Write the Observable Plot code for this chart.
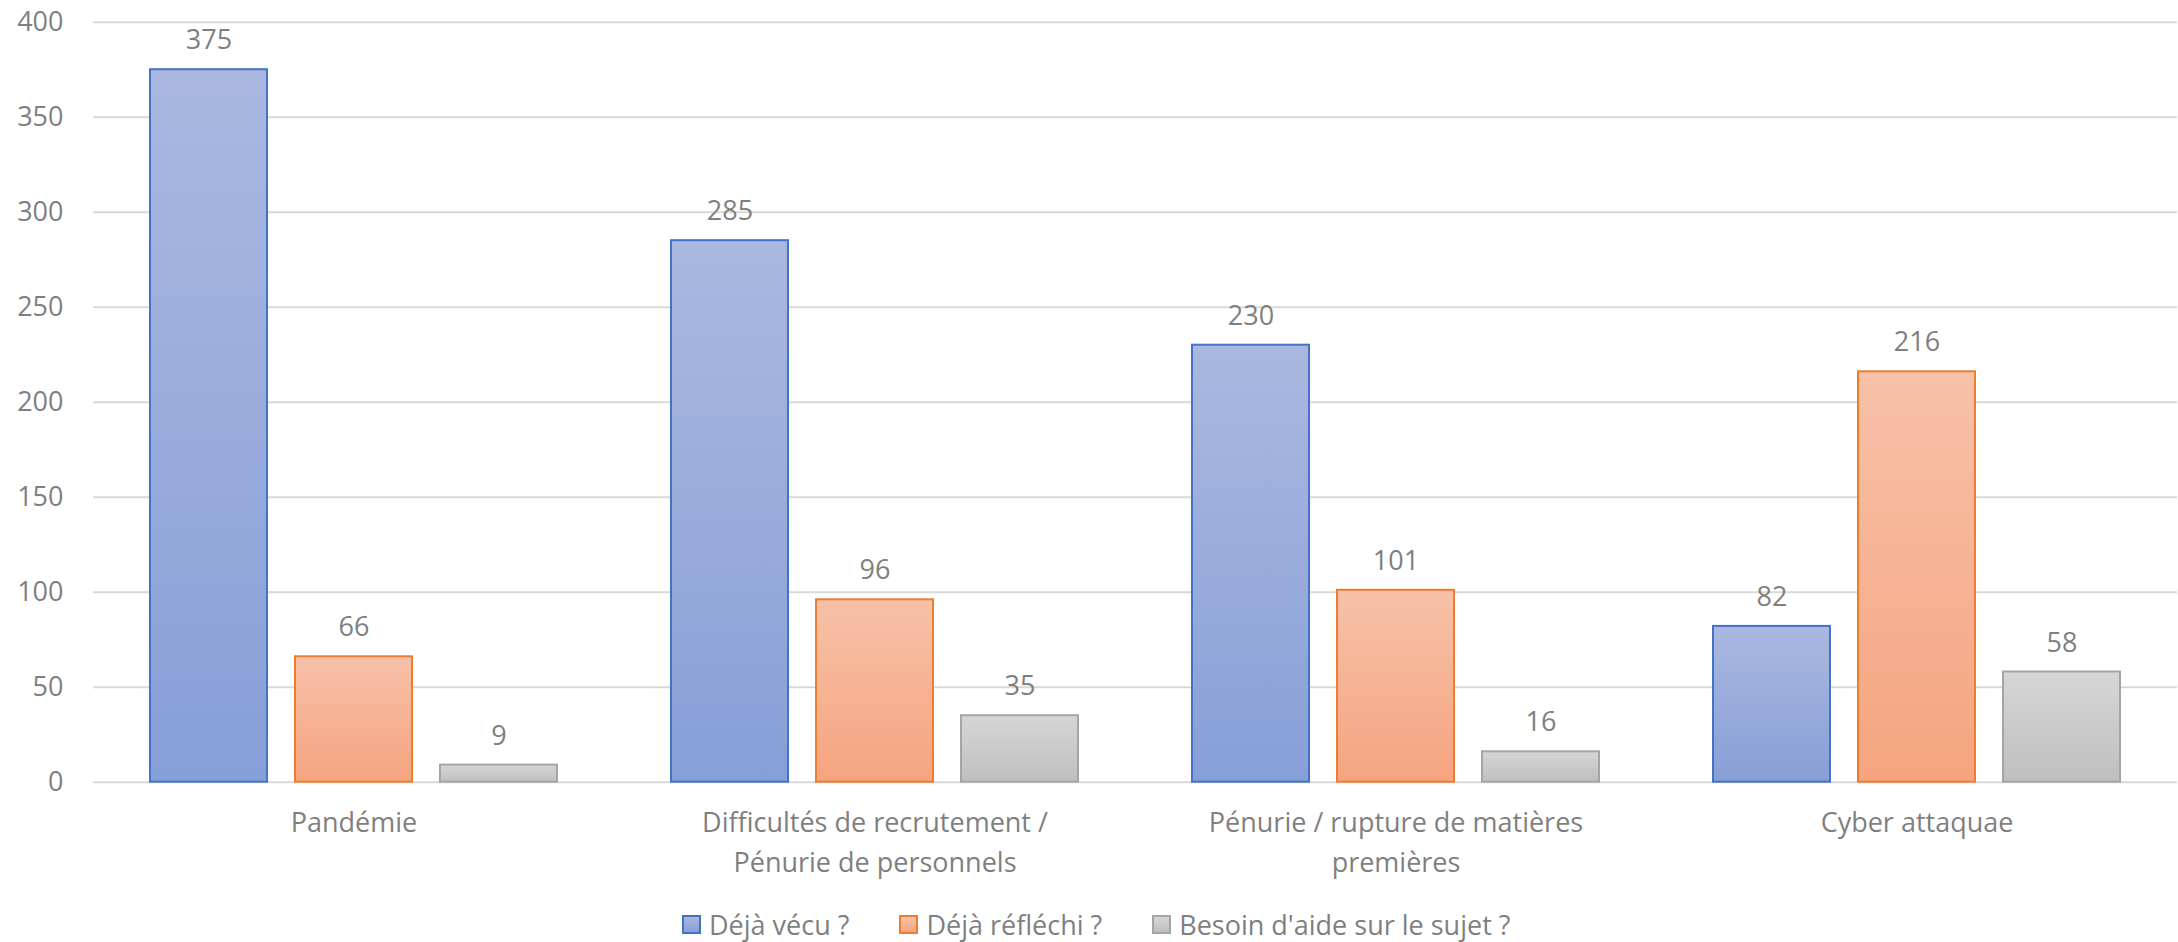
<!DOCTYPE html>
<html>
<head>
<meta charset="utf-8">
<script src="https://cdn.jsdelivr.net/npm/d3@7"></script>
<script src="https://cdn.jsdelivr.net/npm/@observablehq/plot@0.6"></script>
<style>
  html, body { margin: 0; padding: 0; background: #fff; }
  body { width: 2178px; height: 942px; position: relative; overflow: hidden; font-family: "Open Sans", sans-serif; }
  #legend { position: absolute; top: 911px; left: 682px; display: flex; align-items: center; font-size: 27px; line-height: 27px; color: #7f7f7f; white-space: nowrap; }
  .item { display: flex; align-items: center; margin-right: 50px; }
  .sw { width: 15px; height: 15px; border: 2px solid; margin-right: 8px; }
</style>
</head>
<body>
<div id="chart"></div>
<div id="legend"></div>
<script>
const categories = ["Pandémie", "Difficultés de recrutement / Pénurie de personnels", "Pénurie / rupture de matières premières", "Cyber attaquae"];
const categoryLabels = ["Pandémie", "Difficultés de recrutement /\nPénurie de personnels", "Pénurie / rupture de matières\npremières", "Cyber attaquae"];
const series = ["Déjà vécu ?", "Déjà réfléchi ?", "Besoin d'aide sur le sujet ?"];
const dejaVecu = [375, 285, 230, 82];
const dejaReflechi = [66, 96, 101, 216];
const besoinAide = [9, 35, 16, 58];
const yTicks = [0, 50, 100, 150, 200, 250, 300, 350, 400];

const seriesValues = [dejaVecu, dejaReflechi, besoinAide];
const strokes = ["#4472c4", "#ed7d31", "#a5a5a5"];
const gradTop = ["#aab8e0", "#f7c1a8", "#d6d6d6"];
const gradBottom = ["#879fd7", "#f5a47f", "#bfbfbf"];
const gradIds = ["gBlue", "gOrange", "gGrey"];

const data = [];
series.forEach((s, si) => categories.forEach((c, ci) => data.push({category: c, series: s, value: seriesValues[si][ci]})));

const labelOf = new Map(categories.map((c, i) => [c, categoryLabels[i]]));

const marks = [
  Plot.gridY(yTicks, {stroke: "#d9d9d9", strokeOpacity: 1, strokeWidth: 2}),
  Plot.axisY(yTicks, {tickSize: 0, tickPadding: 30, fontSize: 27, fill: "#7f7f7f", label: null}),
  Plot.axisFx({anchor: "bottom", tickSize: 0, tickPadding: 22, fontSize: 27, lineHeight: 1.46, fill: "#7f7f7f", label: null, tickFormat: d => labelOf.get(d)})
];
series.forEach((s, si) => {
  marks.push(Plot.barY(data.filter(d => d.series === s), {
    fx: "category", x: "series", y: "value",
    fill: `url(#${gradIds[si]})`, stroke: strokes[si], strokeWidth: 2
  }));
});
marks.push(Plot.text(data, {
  fx: "category", x: "series", y: "value", text: d => String(d.value),
  dy: -29, lineAnchor: "middle", fontSize: 27, fill: "#7f7f7f"
}));

const chart = Plot.plot({
  width: 2178,
  height: 890,
  marginLeft: 93,
  marginRight: 1,
  marginTop: 21.7,
  marginBottom: 108.3,
  style: {fontFamily: "Open Sans", color: "#7f7f7f", background: "white"},
  fx: {domain: categories, padding: 0, axis: null, label: null},
  x: {domain: series, paddingInner: 0.193, paddingOuter: 0.393, axis: null},
  y: {domain: [0, 400], axis: null, label: null},
  marks
});

const ns = "http://www.w3.org/2000/svg";
const defs = document.createElementNS(ns, "defs");
gradIds.forEach((id, i) => {
  const g = document.createElementNS(ns, "linearGradient");
  g.setAttribute("id", id);
  g.setAttribute("x1", "0"); g.setAttribute("y1", "0");
  g.setAttribute("x2", "0"); g.setAttribute("y2", "1");
  [[0, gradTop[i]], [1, gradBottom[i]]].forEach(([o, c]) => {
    const st = document.createElementNS(ns, "stop");
    st.setAttribute("offset", o);
    st.setAttribute("stop-color", c);
    g.appendChild(st);
  });
  defs.appendChild(g);
});
chart.insertBefore(defs, chart.firstChild);
document.getElementById("chart").appendChild(chart);

const legend = document.getElementById("legend");
series.forEach((s, i) => {
  const item = document.createElement("div");
  item.className = "item";
  const sw = document.createElement("div");
  sw.className = "sw";
  sw.style.borderColor = strokes[i];
  sw.style.background = `linear-gradient(${gradTop[i]}, ${gradBottom[i]})`;
  const t = document.createElement("span");
  t.textContent = s;
  item.appendChild(sw);
  item.appendChild(t);
  legend.appendChild(item);
});
</script>
</body>
</html>
